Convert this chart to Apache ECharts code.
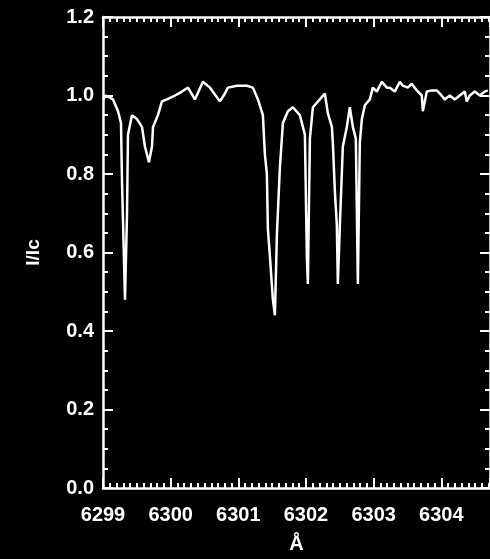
<!DOCTYPE html>
<html>
<head>
<meta charset="utf-8">
<script src="https://cdn.jsdelivr.net/npm/echarts@6/dist/echarts.min.js"></script>
<style>
html,body{margin:0;padding:0;background:#000;}
#c{width:490px;height:559px;}
</style>
</head>
<body>
<div id="c"></div>
<script>
// wavelength (Å)
const wavelength = [
6299.000,6299.044,6299.148,6299.222,6299.266,6299.281,6299.295,6299.325,6299.355,6299.369,
6299.428,6299.502,6299.576,6299.620,6299.679,6299.724,6299.739,6299.812,6299.871,6299.945,
6300.064,6300.167,6300.256,6300.359,6300.477,6300.581,6300.728,6300.802,6300.846,6300.979,
6301.127,6301.216,6301.290,6301.363,6301.393,6301.422,6301.437,6301.467,6301.511,6301.541,
6301.570,6301.614,6301.659,6301.733,6301.806,6301.910,6301.984,6302.013,6302.028,6302.058,
6302.102,6302.205,6302.279,6302.323,6302.383,6302.397,6302.427,6302.456,6302.471,6302.501,
6302.545,6302.604,6302.648,6302.693,6302.737,6302.767,6302.796,6302.826,6302.870,6302.944,
6302.988,6303.047,6303.121,6303.195,6303.239,6303.313,6303.387,6303.431,6303.505,6303.564,
6303.638,6303.712,6303.727,6303.786,6303.860,6303.934,6303.978,6304.052,6304.126,6304.199,
6304.273,6304.347,6304.377,6304.421,6304.495,6304.569,6304.643,6304.687
];
// normalized intensity I/Ic
const intensity = [
0.99,1.00,0.99,0.96,0.93,0.78,0.78,0.48,0.70,0.90,
0.95,0.94,0.92,0.87,0.83,0.87,0.92,0.95,0.985,0.99,
1.00,1.01,1.02,0.99,1.035,1.02,0.985,1.005,1.02,1.025,
1.025,1.02,0.99,0.95,0.85,0.80,0.66,0.59,0.48,0.44,
0.645,0.815,0.93,0.96,0.97,0.95,0.90,0.59,0.52,0.89,
0.97,0.99,1.005,0.955,0.92,0.88,0.757,0.67,0.52,0.67,
0.87,0.92,0.97,0.92,0.89,0.52,0.88,0.94,0.975,0.99,
1.02,1.01,1.035,1.02,1.02,1.01,1.035,1.025,1.02,1.03,
1.013,1.00,0.96,1.01,1.013,1.013,1.005,0.99,1.00,0.99,
1.00,1.01,0.985,1.00,1.01,1.00,1.01,1.013
];
const xTickLabels = ['6299','6300','6301','6302','6303','6304'];
const yTickLabels = ['0.0','0.2','0.4','0.6','0.8','1.0','1.2'];
const xName = 'Å';
const yName = 'I/Ic';

const data = wavelength.map((w, i) => [w, intensity[i]]);
const FONT = "'Liberation Sans',sans-serif";
const X_MIN = 6299, X_MAX = 6304.72;

function xAxisCfg(pos, show) {
  return {
    type: 'value', position: pos, min: X_MIN, max: X_MAX, interval: 1,
    name: show ? xName : '', nameLocation: 'middle', nameGap: 46,
    nameTextStyle: {color: '#fff', fontSize: 20, fontWeight: 'bold', fontFamily: FONT},
    axisLine: {show: true, onZero: false, lineStyle: {color: '#fff', width: 2.5}},
    axisTick: {show: true, inside: true, length: 10, lineStyle: {color: '#fff', width: 2}},
    minorTick: {show: true, splitNumber: 10, length: 5, lineStyle: {color: '#fff', width: 2}},
    splitLine: {show: false},
    axisLabel: {show: show, color: '#fff', fontSize: 20, fontWeight: 'bold', fontFamily: FONT,
      margin: 17, showMaxLabel: false,
      formatter: v => { const i = Math.round(v - X_MIN); return (Math.abs(v - X_MIN - i) < 1e-6 && xTickLabels[i]) ? xTickLabels[i] : ''; }}
  };
}
function yAxisCfg(pos, show) {
  return {
    type: 'value', position: pos, min: 0, max: 1.2, interval: 0.2,
    name: show ? yName : '', nameLocation: 'middle', nameGap: 60, nameRotate: 90,
    nameTextStyle: {color: '#fff', fontSize: 19, fontWeight: 'bold', fontFamily: FONT},
    axisLine: {show: true, onZero: false, lineStyle: {color: '#fff', width: 2.5}},
    axisTick: {show: true, inside: true, length: 10, lineStyle: {color: '#fff', width: 2}},
    minorTick: {show: true, splitNumber: 4, length: 5, lineStyle: {color: '#fff', width: 2}},
    splitLine: {show: false},
    axisLabel: {show: show, color: '#fff', fontSize: 20, fontWeight: 'bold', fontFamily: FONT,
      margin: 9, formatter: v => yTickLabels[Math.round(v / 0.2)] || ''}
  };
}

const chart = echarts.init(document.getElementById('c'), null, {renderer: 'canvas'});
chart.setOption({
  backgroundColor: '#000',
  animation: false,
  grid: {left: 103, right: 0, top: 17, bottom: 67, containLabel: false},
  xAxis: [xAxisCfg('bottom', true), xAxisCfg('top', false)],
  yAxis: [yAxisCfg('left', true), yAxisCfg('right', false)],
  series: [{
    type: 'line', data: data, xAxisIndex: 0, yAxisIndex: 0,
    showSymbol: false, symbol: 'none',
    lineStyle: {color: '#fff', width: 2.5},
    clip: true
  }]
});
</script>
</body>
</html>
